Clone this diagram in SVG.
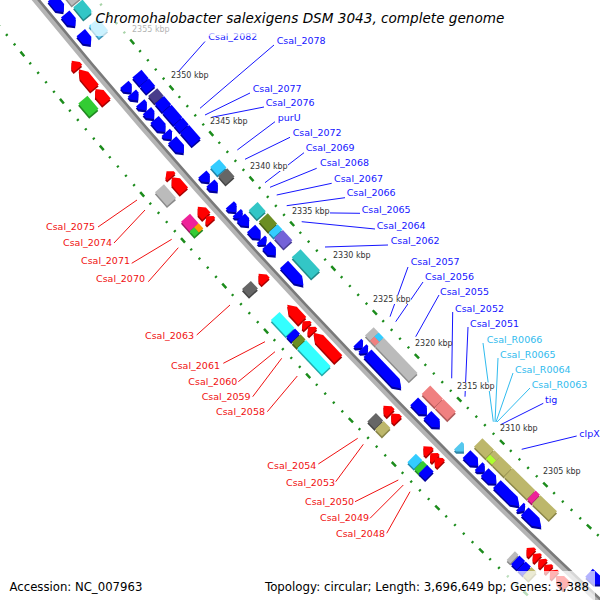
<svg xmlns="http://www.w3.org/2000/svg" width="600" height="600" viewBox="0 0 600 600">
<style>
text{font-family:"DejaVu Sans","Liberation Sans",sans-serif}
.gl{font-size:9.5px}
.kb{font-size:8px;fill:#333}
.xb{fill:#1515ff}.xr{fill:#f01010}.xt{fill:#30bbee}
.lb{stroke:#1515ff;stroke-width:1}.lr{stroke:#f01010;stroke-width:1}.lt{stroke:#30bbee;stroke-width:1}
.bl{fill:#0000ff}.bls{fill:#00009a}
.rd{fill:#ff0000}.rds{fill:#a80000}
.gy{fill:#bbbbbb}.gys{fill:#8a8a8a}
.dg{fill:#666666}.dgs{fill:#444444}
.tl{fill:#33c6c6}.tls{fill:#208888}
.sk{fill:#33ccff}.sks{fill:#1f86aa}
.ol{fill:#6b8e23}.ols{fill:#465e17}
.sl{fill:#7462d8}.sls{fill:#4a3f95}
.dp{fill:#483d8b}.dps{fill:#2e275a}
.kh{fill:#bdb76b}.khs{fill:#8a8548}
.lm{fill:#adff2f}.lms{fill:#78b020}
.mg{fill:#ee2299}.mgs{fill:#a01866}
.cr{fill:#f08080}.crs{fill:#b05a5a}
.aq{fill:#33ffff}.aqs{fill:#22aaaa}
.gr{fill:#33cc33}.grs{fill:#228822}
.or{fill:#ff9900}.ors{fill:#b06a00}
.lc{fill:#77ddff}.lcs{fill:#4499bb}
.tn{fill:#55c8ee}.tns{fill:#2f86a8}
.dot{fill:none;stroke:#1c8c1c;stroke-width:2.5}
.kbg{fill:#fff}
</style>
<rect width="600" height="600" fill="#fff"/>
<g id="map" transform="translate(4823 -3920)">
<g id="tracks">
<circle class="dot" r="6232" transform="rotate(140.9741) scale(1 -1)" stroke-dasharray="6 8.302 2 10.302 2 10.302 2 10.302 2 8.302"/>
<circle class="dot" r="6140" transform="rotate(140.9745) scale(1 -1)" stroke-dasharray="6 8.12 2 10.12 2 10.12 2 10.12 2 8.12"/>
<circle r="6188" fill="none" stroke="#b4b4b4" stroke-width="5"/>
<circle r="6185" fill="none" stroke="#7a7a7a" stroke-width="2.6"/>
</g>
<g id="genes">
<g id="B1" transform="rotate(-39.393) translate(-6186 0)"><path class="bls" transform="translate(-1.5 1.5)" d="M7 0H18V12.3L12.5 18.3L7 12.3Z"/><path class="bl" d="M7 0H18V12.3L12.5 18.3L7 12.3Z"/><rect class="gys" x="21.5" y="1.5" width="12" height="18.3"/><rect class="gy" x="23" width="12" height="18.3"/></g>
<g id="B2" transform="rotate(-39.585) translate(-6186 0)"><path class="bls" transform="translate(-1.5 1.5)" d="M7 0H18V9.9L12.5 15.9L7 9.9Z"/><path class="bl" d="M7 0H18V9.9L12.5 15.9L7 9.9Z"/><rect class="tls" x="21.5" y="1.5" width="12" height="15.9"/><rect class="tl" x="23" width="12" height="15.9"/></g>
<g id="B3" transform="rotate(-39.811) translate(-6186 0)"><path class="bls" transform="translate(-1.5 1.5)" d="M7 0H18V9.9L12.5 15.9L7 9.9Z"/><path class="bl" d="M7 0H18V9.9L12.5 15.9L7 9.9Z"/><rect class="lcs" x="21.5" y="1.5" width="12" height="15.9"/><rect class="lc" x="23" width="12" height="15.9"/></g>
<g id="B4" transform="rotate(-40.439) translate(-6186 0)"><path class="bls" transform="translate(-1.5 1.5)" d="M7 0H18V5L12.5 11L7 5Z"/><path class="bl" d="M7 0H18V5L12.5 11L7 5Z"/><rect class="bls" x="21.5" y="1.5" width="12" height="11"/><rect class="bl" x="23" width="12" height="11"/></g>
<g id="B5" transform="rotate(-40.546) translate(-6186 0)"><path class="bls" transform="translate(-1.5 1.5)" d="M7 0H18V3.8L12.5 9.8L7 3.8Z"/><path class="bl" d="M7 0H18V3.8L12.5 9.8L7 3.8Z"/><rect class="bls" x="21.5" y="1.5" width="12" height="9.8"/><rect class="bl" x="23" width="12" height="9.8"/></g>
<g id="B6" transform="rotate(-40.665) translate(-6186 0)"><path class="bls" transform="translate(-1.5 1.5)" d="M7 0H18V3.8L12.5 9.8L7 3.8Z"/><path class="bl" d="M7 0H18V3.8L12.5 9.8L7 3.8Z"/><rect class="dps" x="21.5" y="1.5" width="12" height="9.8"/><rect class="dp" x="23" width="12" height="9.8"/></g>
<g id="B7" transform="rotate(-40.761) translate(-6186 0)"><path class="bls" transform="translate(-1.5 1.5)" d="M7 0H18V5L12.5 11L7 5Z"/><path class="bl" d="M7 0H18V5L12.5 11L7 5Z"/><rect class="bls" x="21.5" y="1.5" width="12" height="11"/><rect class="bl" x="23" width="12" height="11"/></g>
<g id="B8" transform="rotate(-40.869) translate(-6186 0)"><path class="bls" transform="translate(-1.5 1.5)" d="M7 0H18V10.5L12.5 16.5L7 10.5Z"/><path class="bl" d="M7 0H18V10.5L12.5 16.5L7 10.5Z"/><rect class="bls" x="21.5" y="1.5" width="12" height="16.5"/><rect class="bl" x="23" width="12" height="16.5"/></g>
<g id="B9" transform="rotate(-41.027) translate(-6186 0)"><path class="bls" transform="translate(-1.5 1.5)" d="M7 0H18V3.3L12.5 9.2L7 3.3Z"/><path class="bl" d="M7 0H18V3.3L12.5 9.2L7 3.3Z"/><rect class="bls" x="21.5" y="1.5" width="12" height="9.2"/><rect class="bl" x="23" width="12" height="9.2"/></g>
<g id="B10" transform="rotate(-41.118) translate(-6186 0)"><path class="bls" transform="translate(-1.5 1.5)" d="M7 0H18V11.7L12.5 17.7L7 11.7Z"/><path class="bl" d="M7 0H18V11.7L12.5 17.7L7 11.7Z"/><rect class="bls" x="21.5" y="1.5" width="12" height="17.7"/><rect class="bl" x="23" width="12" height="17.7"/></g>
<g id="B11" transform="rotate(-41.542) translate(-6186 0)"><path class="bls" transform="translate(-1.5 1.5)" d="M7 0H18V5L12.5 11L7 5Z"/><path class="bl" d="M7 0H18V5L12.5 11L7 5Z"/><rect class="sks" x="21.5" y="1.5" width="12" height="11"/><rect class="sk" x="23" width="12" height="11"/></g>
<g id="B12" transform="rotate(-41.655) translate(-6186 0)"><path class="bls" transform="translate(-1.5 1.5)" d="M7 0H18V5L12.5 11L7 5Z"/><path class="bl" d="M7 0H18V5L12.5 11L7 5Z"/><rect class="dgs" x="21.5" y="1.5" width="12" height="11"/><rect class="dg" x="23" width="12" height="11"/></g>
<g id="B13" transform="rotate(-41.926) translate(-6186 0)"><path class="bls" transform="translate(-1.5 1.5)" d="M7 0H18V3.8L12.5 9.8L7 3.8Z"/><path class="bl" d="M7 0H18V3.8L12.5 9.8L7 3.8Z"/></g>
<g id="B14" transform="rotate(-42.022) translate(-6186 0)"><path class="bls" transform="translate(-1.5 1.5)" d="M7 0H18V2.8L12.5 7.9L7 2.8Z"/><path class="bl" d="M7 0H18V2.8L12.5 7.9L7 2.8Z"/></g>
<g id="B15" transform="rotate(-42.079) translate(-6186 0)"><path class="bls" transform="translate(-1.5 1.5)" d="M7 0H18V6.2L12.5 12.2L7 6.2Z"/><path class="bl" d="M7 0H18V6.2L12.5 12.2L7 6.2Z"/><rect class="tls" x="21.5" y="1.5" width="12" height="12.2"/><rect class="tl" x="23" width="12" height="12.2"/></g>
<g id="B16" transform="rotate(-42.220) translate(-6186 0)"><path class="bls" transform="translate(-1.5 1.5)" d="M7 0H18V8L12.5 14L7 8Z"/><path class="bl" d="M7 0H18V8L12.5 14L7 8Z"/><rect class="ols" x="21.5" y="1.5" width="12" height="14"/><rect class="ol" x="23" width="12" height="14"/></g>
<g id="B17" transform="rotate(-42.356) translate(-6186 0)"><path class="bls" transform="translate(-1.5 1.5)" d="M7 0H18V2.6L12.5 7.3L7 2.6Z"/><path class="bl" d="M7 0H18V2.6L12.5 7.3L7 2.6Z"/><rect class="sks" x="21.5" y="1.5" width="12" height="7.3"/><rect class="sk" x="23" width="12" height="7.3"/></g>
<g id="B18" transform="rotate(-42.430) translate(-6186 0)"><path class="bls" transform="translate(-1.5 1.5)" d="M7 0H18V8L12.5 14L7 8Z"/><path class="bl" d="M7 0H18V8L12.5 14L7 8Z"/><rect class="sls" x="21.5" y="1.5" width="12" height="14"/><rect class="sl" x="23" width="12" height="14"/></g>
<g id="B19" transform="rotate(-42.673) translate(-6186 0)"><path class="bls" transform="translate(-1.5 1.5)" d="M7 0H18V20.7L12.5 28.7L7 20.7Z"/><path class="bl" d="M7 0H18V20.7L12.5 28.7L7 20.7Z"/><rect class="tls" x="21.5" y="1.5" width="12" height="28.7"/><rect class="tl" x="23" width="12" height="28.7"/></g>
<g id="B20" transform="rotate(-43.668) translate(-6186 0)"><path class="bls" transform="translate(-1.5 1.5)" d="M7 0H18V2.6L12.5 7.3L7 2.6Z"/><path class="bl" d="M7 0H18V2.6L12.5 7.3L7 2.6Z"/><rect class="gys" x="21.5" y="1.5" width="12" height="7.3"/><rect class="gy" x="23" width="12" height="7.3"/></g>
<g id="B21" transform="rotate(-43.736) translate(-6186 0)"><path class="bls" transform="translate(-1.5 1.5)" d="M7 0H18V2.6L12.5 7.3L7 2.6Z"/><path class="bl" d="M7 0H18V2.6L12.5 7.3L7 2.6Z"/><rect class="gys" x="21.5" y="1.5" width="12" height="7.3"/><rect class="cr" x="23" width="6" height="7.3"/><rect class="sk" x="29" width="6" height="7.3"/></g>
<g id="B22" transform="rotate(-43.804) translate(-6186 0)"><path class="bls" transform="translate(-1.5 1.5)" d="M7 0H18V40.8L12.5 48.8L7 40.8Z"/><path class="bl" d="M7 0H18V40.8L12.5 48.8L7 40.8Z"/><rect class="gys" x="21.5" y="1.5" width="12" height="48.8"/><rect class="gy" x="23" width="12" height="48.8"/></g>
<g id="B23" transform="rotate(-44.426) translate(-6186 0)"><path class="bls" transform="translate(-1.5 1.5)" d="M7 0H18V12.3L12.5 18.3L7 12.3Z"/><path class="bl" d="M7 0H18V12.3L12.5 18.3L7 12.3Z"/><rect class="crs" x="21.5" y="1.5" width="12" height="18.3"/><rect class="cr" x="23" width="12" height="18.3"/></g>
<g id="B24" transform="rotate(-44.601) translate(-6186 0)"><path class="bls" transform="translate(-1.5 1.5)" d="M7 0H18V11.7L12.5 17.7L7 11.7Z"/><path class="bl" d="M7 0H18V11.7L12.5 17.7L7 11.7Z"/><rect class="crs" x="21.5" y="1.5" width="12" height="17.7"/><rect class="cr" x="23" width="12" height="17.7"/></g>
<g id="B25" transform="rotate(-45.003) translate(-6186 0)"><path class="tns" transform="translate(-1.5 1.5)" d="M7 0H18V3L12.5 8.5L7 3Z"/><path class="tn" d="M7 0H18V3L12.5 8.5L7 3Z"/></g>
<g id="B26" transform="rotate(-45.116) translate(-6186 0)"><path class="bls" transform="translate(-1.5 1.5)" d="M7 0H18V10.5L12.5 16.5L7 10.5Z"/><path class="bl" d="M7 0H18V10.5L12.5 16.5L7 10.5Z"/><rect class="khs" x="21.5" y="1.5" width="12" height="16.5"/><rect class="kh" x="23" width="12" height="16.5"/></g>
<g id="B27" transform="rotate(-45.274) translate(-6186 0)"><path class="bls" transform="translate(-1.5 1.5)" d="M7 0H18V3L12.5 8.5L7 3Z"/><path class="bl" d="M7 0H18V3L12.5 8.5L7 3Z"/><rect class="khs" x="21.5" y="1.5" width="12" height="8.5"/><rect class="lm" x="23" width="6" height="8.5"/><rect class="kh" x="29" width="6" height="8.5"/></g>
<g id="B28" transform="rotate(-45.353) translate(-6186 0)"><path class="bls" transform="translate(-1.5 1.5)" d="M7 0H18V10.5L12.5 16.5L7 10.5Z"/><path class="bl" d="M7 0H18V10.5L12.5 16.5L7 10.5Z"/><rect class="khs" x="21.5" y="1.5" width="12" height="16.5"/><rect class="kh" x="23" width="12" height="16.5"/></g>
<g id="B29" transform="rotate(-45.512) translate(-6186 0)"><path class="bls" transform="translate(-1.5 1.5)" d="M7 0H18V23.7L12.5 31.7L7 23.7Z"/><path class="bl" d="M7 0H18V23.7L12.5 31.7L7 23.7Z"/><rect class="khs" x="21.5" y="1.5" width="12" height="31.7"/><rect class="kh" x="23" width="12" height="31.7"/></g>
<g id="B30" transform="rotate(-45.811) translate(-6186 0)"><path class="bls" transform="translate(-1.5 1.5)" d="M7 0H18V2.1L12.5 6.1L7 2.1Z"/><path class="bl" d="M7 0H18V2.1L12.5 6.1L7 2.1Z"/><rect class="mgs" x="21.5" y="1.5" width="12" height="6.1"/><rect class="mg" x="23" width="12" height="6.1"/></g>
<g id="B31" transform="rotate(-45.873) translate(-6186 0)"><path class="bls" transform="translate(-1.5 1.5)" d="M7 0H18V15.2L12.5 23.2L7 15.2Z"/><path class="bl" d="M7 0H18V15.2L12.5 23.2L7 15.2Z"/><rect class="khs" x="21.5" y="1.5" width="12" height="23.2"/><rect class="kh" x="23" width="12" height="23.2"/></g>
<g id="B32" transform="rotate(-46.699) translate(-6186 0)"><path class="bls" transform="translate(-1.5 1.5)" d="M7 0H18V11L12.5 17L7 11Z"/><path class="bl" d="M7 0H18V11L12.5 17L7 11Z"/></g>
<g id="R1" transform="rotate(-39.958) translate(-6186 0)"><path class="rds" transform="translate(-1.5 1.5)" d="M-18 6L-12.5 0L-7 6V9.8H-18Z"/><path class="rd" d="M-18 6L-12.5 0L-7 6V9.8H-18Z"/></g>
<g id="R2" transform="rotate(-40.060) translate(-6186 0)"><path class="rds" transform="translate(-1.5 1.5)" d="M-18 8L-12.5 0L-7 8V24.4H-18Z"/><path class="rd" d="M-18 8L-12.5 0L-7 8V24.4H-18Z"/></g>
<g id="R3" transform="rotate(-40.298) translate(-6186 0)"><path class="rds" transform="translate(-1.5 1.5)" d="M-18 6L-12.5 0L-7 6V17.1H-18Z"/><path class="rd" d="M-18 6L-12.5 0L-7 6V17.1H-18Z"/><rect class="grs" x="-36.5" y="1.5" width="12" height="17.1"/><rect class="gr" x="-35" width="12" height="17.1"/></g>
<g id="R4" transform="rotate(-41.304) translate(-6186 0)"><path class="rds" transform="translate(-1.5 1.5)" d="M-18 4.7L-12.5 0L-7 4.7V7.3H-18Z"/><path class="rd" d="M-18 4.7L-12.5 0L-7 4.7V7.3H-18Z"/></g>
<g id="R5" transform="rotate(-41.378) translate(-6186 0)"><path class="rds" transform="translate(-1.5 1.5)" d="M-18 6L-12.5 0L-7 6V18.3H-18Z"/><path class="rd" d="M-18 6L-12.5 0L-7 6V18.3H-18Z"/><rect class="gys" x="-36.5" y="1.5" width="12" height="18.3"/><rect class="gy" x="-35" width="12" height="18.3"/></g>
<g id="R6" transform="rotate(-41.740) translate(-6186 0)"><path class="rds" transform="translate(-1.5 1.5)" d="M-18 6L-12.5 0L-7 6V12.8H-18Z"/><path class="rd" d="M-18 6L-12.5 0L-7 6V12.8H-18Z"/><rect class="mgs" x="-36.5" y="1.5" width="12" height="12.8"/><rect class="mg" x="-35" width="12" height="12.8"/></g>
<g id="R7" transform="rotate(-41.858) translate(-6186 0)"><path class="rds" transform="translate(-1.5 1.5)" d="M-18 4.7L-12.5 0L-7 4.7V7.3H-18Z"/><path class="rd" d="M-18 4.7L-12.5 0L-7 4.7V7.3H-18Z"/><rect class="grs" x="-36.5" y="1.5" width="12" height="7.3"/><rect class="gr" x="-35" width="6" height="7.3"/><rect class="or" x="-29" width="6" height="7.3"/></g>
<g id="R8" transform="rotate(-42.577) translate(-6186 0)"><path class="rds" transform="translate(-1.5 1.5)" d="M-18 6L-12.5 0L-7 6V10.4H-18Z"/><path class="rd" d="M-18 6L-12.5 0L-7 6V10.4H-18Z"/><rect class="dgs" x="-36.5" y="1.5" width="12" height="10.4"/><rect class="dg" x="-35" width="12" height="10.4"/></g>
<g id="R9" transform="rotate(-42.967) translate(-6186 0)"><path class="rds" transform="translate(-1.5 1.5)" d="M-18 8L-12.5 0L-7 8V22H-18Z"/><path class="rd" d="M-18 8L-12.5 0L-7 8V22H-18Z"/><rect class="aqs" x="-36.5" y="1.5" width="12" height="22"/><rect class="aq" x="-35" width="12" height="22"/></g>
<g id="R10" transform="rotate(-43.176) translate(-6186 0)"><path class="rds" transform="translate(-1.5 1.5)" d="M-18 4.7L-12.5 0L-7 4.7V7.3H-18Z"/><path class="rd" d="M-18 4.7L-12.5 0L-7 4.7V7.3H-18Z"/><rect class="bls" x="-36.5" y="1.5" width="12" height="7.3"/><rect class="bl" x="-35" width="12" height="7.3"/></g>
<g id="R11" transform="rotate(-43.250) translate(-6186 0)"><path class="rds" transform="translate(-1.5 1.5)" d="M-18 4.7L-12.5 0L-7 4.7V7.3H-18Z"/><path class="rd" d="M-18 4.7L-12.5 0L-7 4.7V7.3H-18Z"/><rect class="ols" x="-36.5" y="1.5" width="12" height="7.3"/><rect class="ol" x="-35" width="12" height="7.3"/></g>
<g id="R12" transform="rotate(-43.323) translate(-6186 0)"><path class="rds" transform="translate(-1.5 1.5)" d="M-18 8L-12.5 0L-7 8V36H-18Z"/><path class="rd" d="M-18 8L-12.5 0L-7 8V36H-18Z"/><rect class="aqs" x="-36.5" y="1.5" width="12" height="36"/><rect class="aq" x="-35" width="12" height="36"/></g>
<g id="R13" transform="rotate(-44.256) translate(-6186 0)"><path class="rds" transform="translate(-1.5 1.5)" d="M-18 6L-12.5 0L-7 6V10.4H-18Z"/><path class="rd" d="M-18 6L-12.5 0L-7 6V10.4H-18Z"/><rect class="dgs" x="-36.5" y="1.5" width="12" height="10.4"/><rect class="dg" x="-35" width="12" height="10.4"/></g>
<g id="R14" transform="rotate(-44.358) translate(-6186 0)"><path class="rds" transform="translate(-1.5 1.5)" d="M-18 6L-12.5 0L-7 6V9.8H-18Z"/><path class="rd" d="M-18 6L-12.5 0L-7 6V9.8H-18Z"/><rect class="khs" x="-36.5" y="1.5" width="12" height="9.8"/><rect class="kh" x="-35" width="12" height="9.8"/></g>
<g id="R15" transform="rotate(-44.782) translate(-6186 0)"><path class="rds" transform="translate(-1.5 1.5)" d="M-18 6L-12.5 0L-7 6V9.2H-18Z"/><path class="rd" d="M-18 6L-12.5 0L-7 6V9.2H-18Z"/><rect class="sks" x="-36.5" y="1.5" width="12" height="9.2"/><rect class="sk" x="-35" width="12" height="9.2"/></g>
<g id="R16" transform="rotate(-44.873) translate(-6186 0)"><path class="rds" transform="translate(-1.5 1.5)" d="M-18 5.1L-12.5 0L-7 5.1V7.9H-18Z"/><path class="rd" d="M-18 5.1L-12.5 0L-7 5.1V7.9H-18Z"/><rect class="grs" x="-36.5" y="1.5" width="12" height="7.9"/><rect class="gr" x="-35" width="12" height="7.9"/></g>
<g id="R17" transform="rotate(-44.929) translate(-6186 0)"><path class="rds" transform="translate(-1.5 1.5)" d="M-18 6L-12.5 0L-7 6V9.2H-18Z"/><path class="rd" d="M-18 6L-12.5 0L-7 6V9.2H-18Z"/><rect class="bls" x="-36.5" y="1.5" width="12" height="9.2"/><rect class="bl" x="-35" width="12" height="9.2"/></g>
<g id="R17b" transform="rotate(-46.065) translate(-6186 0)"><rect class="gys" x="-36.5" y="1.5" width="12" height="5"/><rect class="gy" x="-35" width="12" height="5"/></g>
<g id="R18" transform="rotate(-46.122) translate(-6186 0)"><path class="rds" transform="translate(-1.5 1.5)" d="M-18 5.1L-12.5 0L-7 5.1V7.9H-18Z"/><path class="rd" d="M-18 5.1L-12.5 0L-7 5.1V7.9H-18Z"/><rect class="bls" x="-36.5" y="1.5" width="12" height="7.9"/><rect class="bl" x="-35" width="12" height="7.9"/></g>
<g id="R19" transform="rotate(-46.202) translate(-6186 0)"><path class="rds" transform="translate(-1.5 1.5)" d="M-18 4.7L-12.5 0L-7 4.7V7.3H-18Z"/><path class="rd" d="M-18 4.7L-12.5 0L-7 4.7V7.3H-18Z"/><rect class="bls" x="-36.5" y="1.5" width="12" height="7.3"/><rect class="bl" x="-35" width="12" height="7.3"/></g>
<g id="R20" transform="rotate(-46.275) translate(-6186 0)"><path class="rds" transform="translate(-1.5 1.5)" d="M-18 4.7L-12.5 0L-7 4.7V7.3H-18Z"/><path class="rd" d="M-18 4.7L-12.5 0L-7 4.7V7.3H-18Z"/><rect class="khs" x="-36.5" y="1.5" width="12" height="7.3"/><rect class="kh" x="-35" width="12" height="7.3"/></g>
<g id="R21" transform="rotate(-46.348) translate(-6186 0)"><path class="rds" transform="translate(-1.5 1.5)" d="M-18 4.7L-12.5 0L-7 4.7V7.3H-18Z"/><path class="rd" d="M-18 4.7L-12.5 0L-7 4.7V7.3H-18Z"/></g>
<g id="R22" transform="rotate(-46.422) translate(-6186 0)"><path class="rds" transform="translate(-1.5 1.5)" d="M-18 4.7L-12.5 0L-7 4.7V7.3H-18Z"/><path class="rd" d="M-18 4.7L-12.5 0L-7 4.7V7.3H-18Z"/></g>
<g id="R23" transform="rotate(-46.496) translate(-6186 0)"><path class="rds" transform="translate(-1.5 1.5)" d="M-18 6L-12.5 0L-7 6V14.6H-18Z"/><path class="rd" d="M-18 6L-12.5 0L-7 6V14.6H-18Z"/></g>
</g>
</g>
<g id="connectors" fill="none">
<path class="lb" d="M205 41.5L173 77.7M274 45L200 108.3M250 93L205 115M264 107L211.7 117.3M275 121.7L237.3 150M290 137.3L245 159.3M304 152.7L265 182.7M316.7 168.3L270 187.3M331.7 183.3L276.7 195M345 197.7L286.7 205.7M360 213.3L293 212.5M375 229L301.7 221.7M388 245L325 247M408 267L390 316.7M423 282L395.7 321.7M439 295L415.7 336.7M452.7 312L451.7 378.3M468 327L465 396.7M543.3 403.3L500 425M576.7 436L521.7 449.3"/>
<path class="lt" d="M483 343L493.3 421.7M498 358L495 422M513 373L496 422M530 388L497 422"/>
<path class="lr" d="M98 227L137 200M114 243L145 210M131.7 263.3L171.7 239.3M148.3 281.7L178.3 247.7M196.7 335L230 305M223.3 363.3L265 341.7M238.3 381.7L275 351.7M252.7 396.7L281.7 358.3M267.3 411.7L297.3 376M318.3 464L357.7 438.3M335.7 481.7L363.3 444.3M355 501.7L398.3 480M370 518.3L403.3 485M386.7 533.3L410 491.7"/>
</g>
<g id="ticklabels">
<rect class="kbg" x="131" y="25.5" width="39" height="8.5"/><text class="kb" x="132" y="32">2355 kbp</text>
<rect class="kbg" x="170" y="71.5" width="39" height="8.5"/><text class="kb" x="171" y="78">2350 kbp</text>
<rect class="kbg" x="209" y="117.5" width="39" height="8.5"/><text class="kb" x="210" y="124">2345 kbp</text>
<rect class="kbg" x="249" y="162.5" width="39" height="8.5"/><text class="kb" x="250" y="169">2340 kbp</text>
<rect class="kbg" x="291" y="207.5" width="39" height="8.5"/><text class="kb" x="292" y="214">2335 kbp</text>
<rect class="kbg" x="332" y="251.5" width="39" height="8.5"/><text class="kb" x="333" y="258">2330 kbp</text>
<rect class="kbg" x="372" y="295.5" width="39" height="8.5"/><text class="kb" x="373" y="302">2325 kbp</text>
<rect class="kbg" x="414" y="339.5" width="37" height="8.5"/><text class="kb" x="415" y="346">2320 kbp</text>
<rect class="kbg" x="456" y="382.5" width="39" height="8.5"/><text class="kb" x="457" y="389">2315 kbp</text>
<rect class="kbg" x="499" y="424.5" width="39" height="8.5"/><text class="kb" x="500" y="431">2310 kbp</text>
<rect class="kbg" x="542" y="467.5" width="39" height="8.5"/><text class="kb" x="543" y="474">2305 kbp</text>
</g>
<g id="labels" class="gl">
<text class="xb" x="208.3" y="40.3">Csal_2082</text>
<text class="xb" x="276.7" y="43.7">Csal_2078</text>
<text class="xb" x="252.7" y="92">Csal_2077</text>
<text class="xb" x="265.7" y="106.3">Csal_2076</text>
<text class="xb" x="277.7" y="121.3">purU</text>
<text class="xb" x="292.7" y="136.3">Csal_2072</text>
<text class="xb" x="305.7" y="151">Csal_2069</text>
<text class="xb" x="320" y="166.3">Csal_2068</text>
<text class="xb" x="334" y="182">Csal_2067</text>
<text class="xb" x="346.7" y="196">Csal_2066</text>
<text class="xb" x="361.7" y="213">Csal_2065</text>
<text class="xb" x="376.7" y="228.7">Csal_2064</text>
<text class="xb" x="390.7" y="243.7">Csal_2062</text>
<text class="xb" x="410.7" y="265.3">Csal_2057</text>
<text class="xb" x="425" y="279.7">Csal_2056</text>
<text class="xb" x="440" y="295">Csal_2055</text>
<text class="xb" x="455" y="312">Csal_2052</text>
<text class="xb" x="470" y="327">Csal_2051</text>
<text class="xt" x="486.7" y="343">Csal_R0066</text>
<text class="xt" x="500" y="357.7">Csal_R0065</text>
<text class="xt" x="515" y="373">Csal_R0064</text>
<text class="xt" x="531.7" y="388">Csal_R0063</text>
<text class="xb" x="545" y="403">tig</text>
<text class="xb" x="579.3" y="437">clpX</text>
<text class="xr" x="46" y="229.5">Csal_2075</text>
<text class="xr" x="63" y="246">Csal_2074</text>
<text class="xr" x="81" y="263.7">Csal_2071</text>
<text class="xr" x="96" y="282">Csal_2070</text>
<text class="xr" x="145" y="338.7">Csal_2063</text>
<text class="xr" x="171" y="368.7">Csal_2061</text>
<text class="xr" x="188.3" y="385.3">Csal_2060</text>
<text class="xr" x="201.7" y="400.3">Csal_2059</text>
<text class="xr" x="216" y="415.3">Csal_2058</text>
<text class="xr" x="267.3" y="468.7">Csal_2054</text>
<text class="xr" x="286" y="486.3">Csal_2053</text>
<text class="xr" x="305" y="505.3">Csal_2050</text>
<text class="xr" x="320" y="521.3">Csal_2049</text>
<text class="xr" x="336" y="537">Csal_2048</text>
</g>
<g id="title">
<rect x="91" y="0" width="418" height="36" fill="#fff" opacity="0.62"/>
<text x="300" y="23" text-anchor="middle" font-size="13.6" font-style="italic" fill="#000">Chromohalobacter salexigens DSM 3043, complete genome</text>
</g>
<g id="footer">
<rect x="255" y="571" width="340" height="29" fill="#fff" opacity="0.7"/>
<text x="9.5" y="590.5" font-size="11.7" fill="#000">Accession: NC_007963</text>
<text x="589" y="590.5" font-size="11.8" text-anchor="end" fill="#000">Topology: circular; Length: 3,696,649 bp; Genes: 3,388</text>
</g>
</svg>
